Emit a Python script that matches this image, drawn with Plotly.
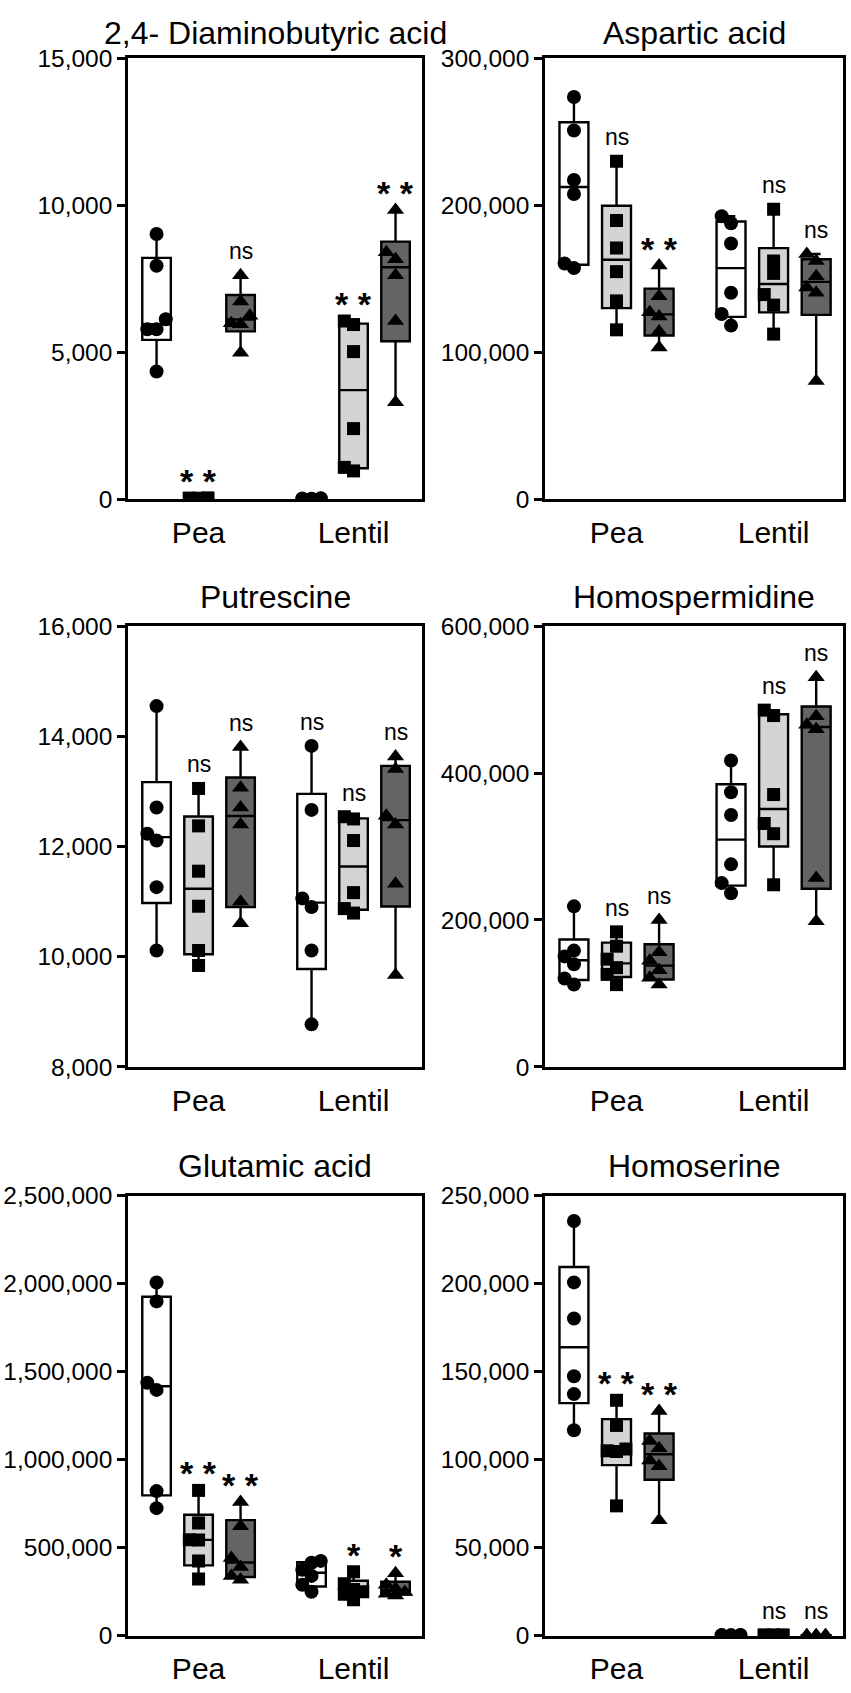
import numpy as np
import plotly.graph_objects as go

crops = ["Pea", "Lentil"]

# six replicates per group: white (control), light grey, dark grey
daba_pea = [[9020, 7940, 6120, 5780, 5780, 4340],
            [30, 20, 40, 10, 25, 35],
            [7620, 6720, 6240, 5980, 5950, 4980]]
daba_lentil = [[20, 0, 30, 10, 0, 15],
               [6060, 5940, 5020, 2400, 1080, 960],
               [9840, 8400, 8160, 7620, 6060, 3300]]
daba_sig = [["", "**", "ns"], ["", "**", "**"]]

asp_pea = [[273600, 250800, 217200, 207600, 160300, 157200],
           [229900, 189600, 170900, 154800, 134900, 115200],
           [158900, 138000, 127200, 124300, 114000, 103200]]
asp_lentil = [[192500, 187700, 174000, 140400, 126000, 118100],
              [197300, 162000, 153600, 139200, 132000, 112300],
              [166800, 162000, 151700, 144000, 140400, 80400]]
asp_sig = [["", "ns", "**"], ["", "ns", "ns"]]

put_pea = [[14548, 12707, 12232, 12108, 11262, 10113],
           [13053, 12374, 11552, 10916, 10113, 9841],
           [13807, 13066, 12707, 12398, 10996, 10607]]
put_lentil = [[13825, 12664, 11058, 10903, 10113, 8772],
              [12540, 12500, 12108, 11163, 10873, 10792],
              [13634, 13405, 12559, 12398, 11324, 9668]]
put_sig = [["", "ns", "ns"], ["ns", "ns", "ns"]]

hspd_pea = [[218500, 158300, 150400, 139800, 120300, 112000],
            [183800, 164300, 146700, 135100, 125900, 112000],
            [200000, 156000, 144400, 131400, 121200, 112000]]
hspd_lentil = [[417000, 373900, 342900, 275700, 250200, 236300],
               [485600, 478200, 370700, 331300, 317400, 247900],
               [530500, 477200, 465600, 459600, 257100, 198300]]
hspd_sig = [["", "ns", "ns"], ["", "ns", "ns"]]

glu_pea = [[2007000, 1900000, 1438000, 1397000, 821700, 725000],
           [825800, 641000, 545000, 544000, 425200, 322500],
           [760000, 622400, 441700, 390300, 339000, 318400]]
glu_lentil = [[425000, 415000, 375000, 340000, 290000, 250000],
              [364000, 295000, 262000, 250000, 235000, 205000],
              [355000, 290000, 268000, 248000, 238000, 228000]]
glu_sig = [["", "**", "**"], ["", "*", "*"]]

hser_pea = [[235700, 200800, 180300, 147500, 137300, 116800],
            [133800, 119500, 106100, 105100, 104700, 73800],
            [127700, 110700, 106600, 99600, 96300, 65600]]
hser_lentil = [[300, 250, 400, 200, 350, 280],
               [350, 300, 450, 250, 400, 320],
               [200, 150, 300, 100, 250, 180]]
hser_sig = [["", "**", "**"], ["", "ns", "ns"]]

titles = ["2,4- Diaminobutyric acid", "Aspartic acid", "Putrescine",
          "Homospermidine", "Glutamic acid", "Homoserine"]
yranges = [(0, 15000), (0, 300000), (8000, 16000),
           (0, 600000), (0, 2500000), (0, 250000)]
ydticks = [5000, 100000, 2000, 200000, 500000, 50000]
panel_data = [(daba_pea, daba_lentil, daba_sig), (asp_pea, asp_lentil, asp_sig),
              (put_pea, put_lentil, put_sig), (hspd_pea, hspd_lentil, hspd_sig),
              (glu_pea, glu_lentil, glu_sig), (hser_pea, hser_lentil, hser_sig)]

W, H = 851, 1693
col_px = [(128, 422), (545, 843)]
row_px = [(46, 494), (623, 1071), (1202, 1649)]
title_y = [20, 593, 1172]
FONT = "Arial, Liberation Sans, sans-serif"

fills = ["white", "#d4d4d4", "#646464"]
symbols = ["circle", "square", "triangle-up"]
msizes = [14, 13, 15]
offsets = [-1, 0, 1]
crop_pos = [0, 3.69]
xr = [-1.68, 5.32]
box_w = 0.68
step = 0.22


def swarm(vals, center, ppu, diam):
	# spread points that would overlap vertically into side columns
	placed = []
	out = [center] * len(vals)
	for i in sorted(range(len(vals)), key=lambda k: vals[k]):
		y = vals[i] * ppu
		chosen = None
		for c in [0, -1, 1]:
			if all(pc != c or abs(py - y) >= diam for pc, py in placed):
				chosen = c
				break
		if chosen is None:
			chosen = [0, -1, 1][len(placed) % 3]
		placed.append((chosen, y))
		out[i] = center + chosen * step
	return out


fig = go.Figure()
annotations = []
layout = {}

for p in range(6):
	row, col = p // 2, p % 2
	sfx = "" if p == 0 else str(p + 1)
	xa, ya = "x" + sfx, "y" + sfx
	x0, x1 = col_px[col]
	y0, y1 = row_px[row]
	ymin, ymax = yranges[p]
	ppu = (y1 - y0) / (ymax - ymin)

	layout["xaxis" + sfx] = dict(
		domain=[x0 / W, x1 / W], anchor=ya, range=xr,
		tickvals=crop_pos, ticktext=crops, tickfont=dict(size=30, color="black"),
		ticks="outside", ticklen=5, tickcolor="rgba(0,0,0,0)",
		showline=True, mirror=True, linecolor="black", linewidth=2.5,
		showgrid=False, zeroline=False)
	layout["yaxis" + sfx] = dict(
		domain=[1 - y1 / H, 1 - y0 / H], anchor=xa, range=[ymin, ymax],
		dtick=ydticks[p], tick0=ymin, tickformat=",", tickfont=dict(size=24.5, color="black"),
		ticks="outside", ticklen=8, tickwidth=2.5, tickcolor="black",
		showline=True, mirror=True, linecolor="black", linewidth=2.5,
		showgrid=False, zeroline=False)

	annotations.append(dict(
		text=titles[p], x=(x0 + x1) / 2 / W, y=1 - title_y[row] / H,
		xref="paper", yref="paper", xanchor="center", yanchor="middle",
		showarrow=False, font=dict(size=32, color="black")))

	pea, lentil, sig = panel_data[p]
	for c, groups in enumerate([pea, lentil]):
		for g in range(3):
			vals = np.array(groups[g], dtype=float)
			pos = crop_pos[c] + offsets[g]
			q1, med, q3 = np.percentile(vals, [25, 50, 75], method="weibull")
			fig.add_trace(go.Box(
				x=[pos], q1=[q1], median=[med], q3=[q3],
				lowerfence=[vals.min()], upperfence=[vals.max()],
				width=box_w, whiskerwidth=0.3, fillcolor=fills[g],
				line=dict(color="black", width=2.4), boxpoints=False,
				xaxis=xa, yaxis=ya, showlegend=False, hoverinfo="skip"))
			xs = swarm(list(vals), pos, ppu, 12)
			fig.add_trace(go.Scatter(
				x=xs, y=list(vals), mode="markers", xaxis=xa, yaxis=ya,
				marker=dict(symbol=symbols[g], color="black", size=msizes[g], line=dict(width=0)),
				showlegend=False, hoverinfo="skip"))
			label = sig[c][g]
			if label:
				star = label.startswith("*")
				annotations.append(dict(
					text=" ".join(label) if star else label,
					x=pos, y=vals.max(), xref=xa, yref=ya,
					xanchor="center", yanchor="bottom", showarrow=False,
					yshift=-4 if star else 9,
					font=dict(size=34 if star else 23, color="black",
						family=FONT, weight="bold" if star else "normal")))

fig.update_layout(**layout)
fig.update_layout(
	width=W, height=H, margin=dict(t=0, l=0, b=0, r=0),
	paper_bgcolor="white", plot_bgcolor="white",
	font=dict(family=FONT, color="black"),
	annotations=annotations, showlegend=False)
fig.write_html("out.html", config={"displayModeBar": False},
	post_script="document.body.style.margin='0px';")
